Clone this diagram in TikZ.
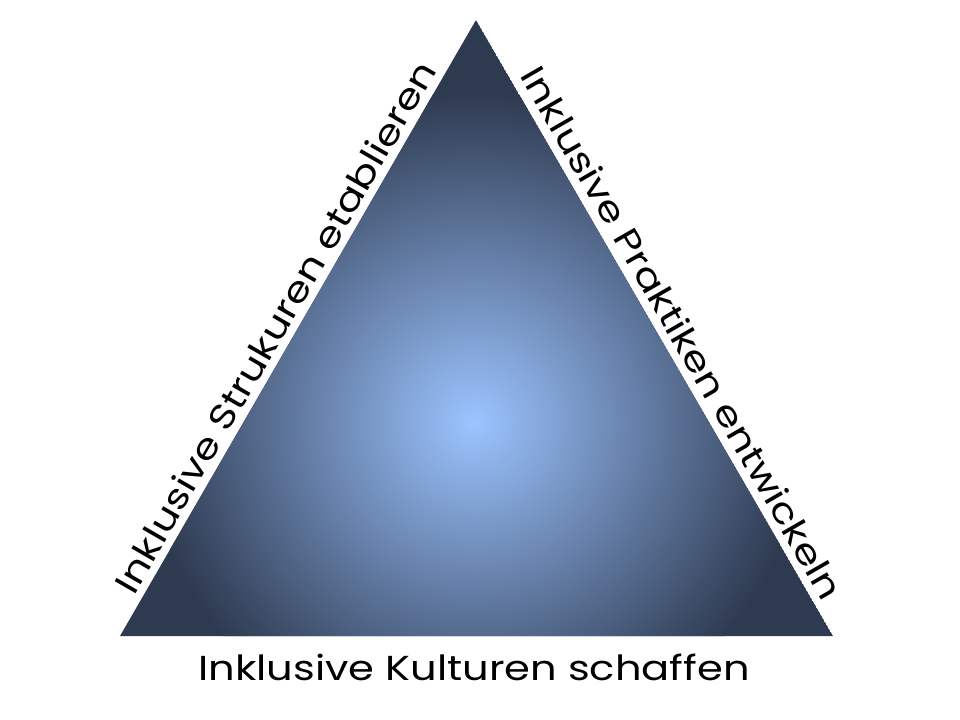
\documentclass[tikz,border=0pt]{standalone}
\usepackage{fontspec}
\setmainfont[FakeStretch=1.2]{Poppins}
\definecolor{innerblue}{HTML}{9CC4FF}
\definecolor{outerslate}{HTML}{2E3A50}
\tikzset{sidelabel/.style={font=\fontsize{26}{30}\selectfont, inner sep=0pt, anchor=base}}
\begin{document}
\begin{tikzpicture}[x=0.75pt,y=0.75pt,yscale=-1,xscale=1]
	\useasboundingbox (0,0) rectangle (960,720);
	
	%Corners of the triangle
	\coordinate (apex) at (476,20);
	\coordinate (bl) at (120,636);
	\coordinate (br) at (833,636);
	
	%Shape: Triangle with radial shading
	\begin{scope}
		\clip (bl) -- (apex) -- (br) -- cycle;
		\fill [outerslate] (bl) -- (apex) -- (br) -- cycle;
		\shade[inner color=innerblue, outer color=outerslate] (474,422) circle (330);
	\end{scope}
	
	% Text Node
	\node (structures) [sidelabel, rotate=60] at (286,333) {Inklusive Strukuren etablieren};
	% Text Node
	\node (practices) [sidelabel, rotate=-60] at (671,339) {Inklusive Praktiken entwickeln};
	% Text Node
	\node (cultures) [sidelabel] at (474,680) {Inklusive Kulturen schaffen};
\end{tikzpicture}
\end{document}
